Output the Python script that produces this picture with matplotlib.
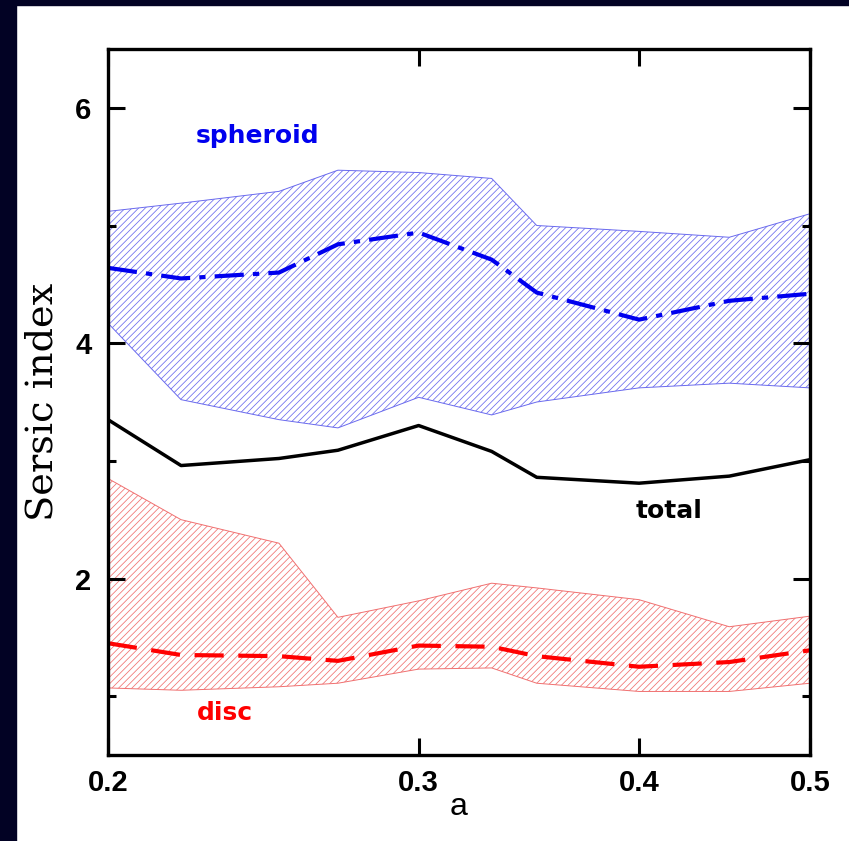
import matplotlib
matplotlib.use("Agg")
import matplotlib.pyplot as plt
from matplotlib.patches import Rectangle
from matplotlib.ticker import FixedLocator, NullLocator, NullFormatter

# scale factor a (log axis)
a = [0.2, 0.22, 0.25, 0.27, 0.3, 0.33, 0.35, 0.4, 0.45, 0.5]

# total Sersic index
total = [3.35, 2.96, 3.02, 3.09, 3.30, 3.08, 2.86, 2.81, 2.87, 3.01]

# spheroid: median and spread
sph_med = [4.64, 4.55, 4.60, 4.84, 4.94, 4.71, 4.43, 4.20, 4.36, 4.42]
sph_hi = [5.12, 5.19, 5.29, 5.47, 5.45, 5.40, 5.00, 4.95, 4.90, 5.10]
sph_lo = [4.17, 3.52, 3.35, 3.28, 3.54, 3.39, 3.50, 3.62, 3.66, 3.62]

# disc: median and spread
disc_med = [1.45, 1.35, 1.34, 1.30, 1.43, 1.42, 1.34, 1.25, 1.29, 1.39]
disc_hi = [2.85, 2.50, 2.30, 1.67, 1.81, 1.96, 1.92, 1.82, 1.59, 1.68]
disc_lo = [1.07, 1.05, 1.08, 1.11, 1.23, 1.24, 1.11, 1.04, 1.04, 1.11]

xticks = [0.2, 0.3, 0.4, 0.5]
xticklabels = ["0.2", "0.3", "0.4", "0.5"]

plt.rcParams['hatch.linewidth'] = 0.55

W, H = 849, 841
fig = plt.figure(figsize=(W / 100, H / 100), dpi=100)
fig.patch.set_facecolor('white')

# dark frame strips at left and top
navy = '#020224'
fig.patches.append(Rectangle((0, 0), 16 / W, 1, transform=fig.transFigure,
                             color=navy, zorder=0))
fig.patches.append(Rectangle((0, 1 - 5 / H), 1, 5 / H, transform=fig.transFigure,
                             color=navy, zorder=0))

ax = fig.add_axes([108 / W, 1 - 755 / H, 702 / W, 706 / H])

# shaded spreads
ax.fill_between(a, sph_lo, sph_hi, facecolor='none', edgecolor='#6a6aee',
                hatch='/////', linewidth=0.7)
ax.fill_between(a, disc_lo, disc_hi, facecolor='none', edgecolor='#f07070',
                hatch='/////', linewidth=0.7)

ax.plot(a, sph_med, color='#0000ee', lw=3.0, dashes=(7, 2.2, 1.5, 2.2))
ax.plot(a, disc_med, color='#ff0000', lw=3.0, dashes=(7, 3.5))
ax.plot(a, total, color='black', lw=2.5)

ax.set_xscale('log')
ax.set_xlim(0.2, 0.5)
ax.set_ylim(0.5, 6.5)

ax.xaxis.set_major_locator(FixedLocator(xticks))
ax.set_xticklabels(xticklabels)
ax.xaxis.set_minor_locator(NullLocator())
ax.xaxis.set_minor_formatter(NullFormatter())
ax.yaxis.set_major_locator(FixedLocator([2, 4, 6]))
ax.yaxis.set_minor_locator(FixedLocator([1, 3, 5]))

for lab in ax.get_xticklabels() + ax.get_yticklabels():
    lab.set_fontfamily('Liberation Sans')
    lab.set_fontweight('bold')
    lab.set_fontsize(21)

ax.tick_params(which='major', direction='in', length=12, width=2.2,
               top=True, right=True)
ax.tick_params(which='minor', direction='in', length=6, width=2.2,
               top=True, right=True)
ax.tick_params(axis='x', which='major', pad=10)
ax.tick_params(axis='y', which='major', pad=12)

for sp in ax.spines.values():
    sp.set_linewidth(2.4)

ax.set_ylabel('Sersic index', fontsize=27.5, family='DejaVu Serif')
ax.yaxis.set_label_coords(-0.068, 0.5)
ax.set_xlabel('a', fontsize=23, family='Liberation Sans')
ax.xaxis.set_label_coords(0.5, -0.052)

ax.text(0.243, 5.76, 'spheroid', color='#0000ee', fontsize=18,
        fontweight='bold', ha='center', va='center')
ax.text(0.416, 2.57, 'total', color='black', fontsize=18,
        fontweight='bold', ha='center', va='center')
ax.text(0.233, 0.86, 'disc', color='#ff0000', fontsize=18,
        fontweight='bold', ha='center', va='center')

fig.savefig('out.png', dpi=100)
